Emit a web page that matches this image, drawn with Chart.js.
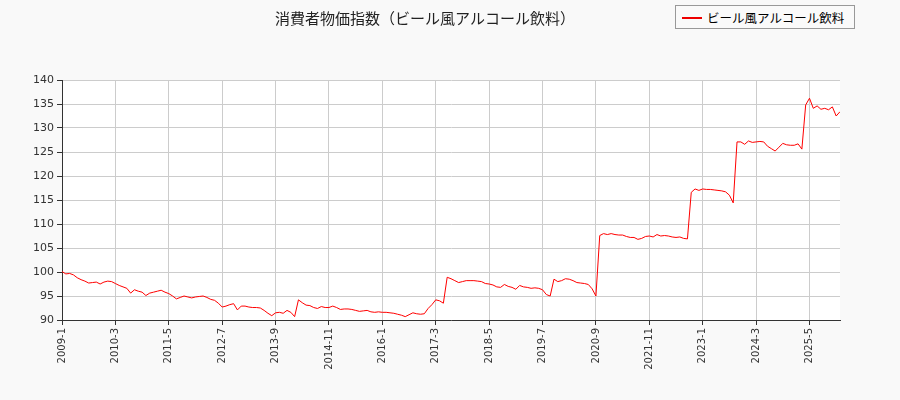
<!DOCTYPE html>
<html><head><meta charset="utf-8">
<script src="https://cdn.jsdelivr.net/npm/chart.js@4"></script>
<style>
body{margin:0;background:#f9f9f9;font-family:"Noto Sans CJK JP","DejaVu Sans",sans-serif}
#wrap{position:relative;width:900px;height:400px}
#leg{position:absolute;left:675px;top:5px;width:180px;height:24px;border:1px solid #999;background:#fafafa;font-size:12.5px;line-height:23px;box-sizing:border-box}
#leg span.l{position:absolute;left:6px;top:11px;width:20px;height:2px;background:#e00}
#leg span.t{position:absolute;left:31px;top:0}
</style></head><body>
<div id="wrap"><canvas id="c" width="900" height="400"></canvas>
<div id="leg"><span class="l"></span><span class="t">ビール風アルコール飲料</span></div></div>
<script>
const seriesName = "ビール風アルコール飲料";
const startYear = 2009, startMonth = 1;
const values = [
100.1,99.6,99.7,99.4,98.8,98.4,98.1,97.7,97.8,97.9,97.5,97.9,
98.1,98.0,97.6,97.2,96.9,96.6,95.6,96.3,96.0,95.8,95.1,95.6,
95.8,96.0,96.2,95.8,95.5,95.0,94.4,94.7,95.0,94.8,94.6,94.8,
94.9,95.0,94.7,94.3,94.1,93.5,92.7,92.9,93.2,93.4,92.1,92.9,
92.9,92.7,92.6,92.6,92.5,92.0,91.4,90.9,91.5,91.6,91.4,92.0,
91.6,90.7,94.2,93.6,93.1,93.0,92.6,92.4,92.8,92.6,92.6,92.9,
92.6,92.2,92.3,92.3,92.2,92.0,91.8,91.9,92.0,91.7,91.6,91.7,
91.6,91.6,91.5,91.4,91.2,91.0,90.7,91.1,91.5,91.3,91.2,91.3,
92.4,93.2,94.2,94.0,93.5,98.9,98.6,98.2,97.8,98.0,98.2,98.2,
98.2,98.1,98.0,97.6,97.5,97.3,96.9,96.8,97.4,97.0,96.8,96.4,
97.2,96.9,96.8,96.6,96.7,96.6,96.3,95.3,95.0,98.5,98.0,98.2,
98.6,98.5,98.2,97.8,97.7,97.6,97.4,96.5,95.0,107.6,108.0,107.8,
108.0,107.8,107.7,107.7,107.4,107.2,107.2,106.8,107.0,107.4,107.5,107.3,
107.8,107.5,107.6,107.5,107.3,107.2,107.3,107.0,106.9,116.6,117.3,117.0,
117.3,117.2,117.2,117.1,117.0,116.9,116.7,116.0,114.4,127.1,127.1,126.6,
127.3,127.0,127.1,127.2,127.1,126.2,125.7,125.2,126.0,126.8,126.5,126.4,
126.4,126.7,125.6,134.8,136.2,134.1,134.6,133.9,134.1,133.8,134.4,132.5,133.4
];
const yTicks = [90,95,100,105,110,115,120,125,130,135,140];
const monthLabel = i => { const m = startMonth-1+i; return (startYear+Math.floor(m/12))+"-"+(m%12+1); };
const pts = values.map((v,i)=>({x:i,y:v}));
const bg = {id:'bg',beforeDraw(c){const a=c.chartArea,x=c.ctx;x.save();x.fillStyle='#fff';x.fillRect(a.left,a.top,a.right-a.left,a.bottom-a.top);x.restore();}};
new Chart(document.getElementById('c'),{
 type:'line',
 data:{datasets:[{label:seriesName,data:pts,borderColor:'#ff0000',borderWidth:1,pointRadius:0,tension:0}]},
 options:{responsive:false,animation:false,
  layout:{padding:{left:10,right:60,top:0,bottom:0}},
  plugins:{legend:{display:false},tooltip:{enabled:false},
   title:{display:true,text:"消費者物価指数（ビール風アルコール飲料）",color:'#222',font:{size:15,family:'"Noto Sans CJK JP"',weight:'normal'},padding:{top:9,bottom:53}}},
  scales:{
   x:{type:'linear',min:0,max:204,afterBuildTicks(s){s.ticks=[];for(let i=0;i<=204;i+=14)s.ticks.push({value:i});},
      ticks:{callback:v=>monthLabel(v),maxRotation:90,minRotation:90,color:'#333',font:{size:10,family:'"DejaVu Sans"'}},
      grid:{color:'#ccc',tickColor:'#333',tickLength:5},border:{color:'#333'},afterFit(s){s.height=80;}},
   y:{min:90,max:140,afterBuildTicks(s){s.ticks=yTicks.map(v=>({value:v}));},
      ticks:{color:'#333',font:{size:11,family:'"DejaVu Sans"'}},
      grid:{color:'#ccc',tickColor:'#333',tickLength:5},border:{color:'#333'},afterFit(s){s.width=52;}}
  }},
 plugins:[bg]
});
</script></body></html>
